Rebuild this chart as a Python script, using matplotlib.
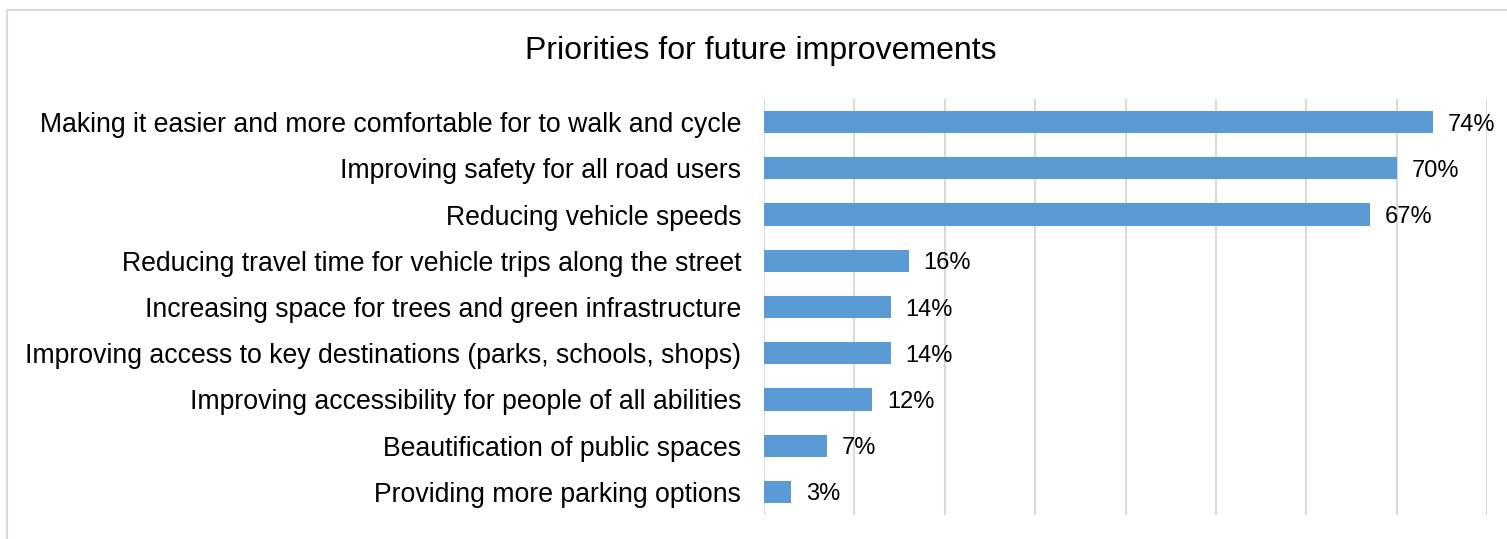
import matplotlib.pyplot as plt
from matplotlib.lines import Line2D

categories = [
    "Making it easier and more comfortable for to walk and cycle",
    "Improving safety for all road users",
    "Reducing vehicle speeds",
    "Reducing travel time for vehicle trips along the street",
    "Increasing space for trees and green infrastructure",
    "Improving access to key destinations (parks, schools, shops)",
    "Improving accessibility for people of all abilities",
    "Beautification of public spaces",
    "Providing more parking options",
]
values = [74, 70, 67, 16, 14, 14, 12, 7, 3]
xticks = [0, 10, 20, 30, 40, 50, 60, 70, 80]

plt.rcParams['font.family'] = ['Liberation Sans', 'DejaVu Sans']

fig = plt.figure(figsize=(15.07, 5.39), dpi=100)
ax = fig.add_axes([764 / 1507, 1 - 515 / 539, (1487 - 764) / 1507, (515 - 99) / 539])

y = list(range(len(categories)))
ax.barh(y, values, height=0.48, color='#5B9BD5', zorder=3)
for yi, v in zip(y, values):
    ax.text(v + 1.65, yi, f"{v}%", va='center_baseline', ha='left', fontsize=17, color='black')

ax.set_xlim(0, 80)
ax.set_ylim(len(categories) - 0.5, -0.5)
ax.set_xticks(xticks)
ax.set_xticklabels([])
ax.set_yticks(y)
ax.set_yticklabels(categories, fontsize=19.2, va='center_baseline')
ax.tick_params(axis='both', length=0, pad=16.5)
ax.grid(axis='x', color='#D9D9D9', linewidth=1.5, zorder=0)
for s in ax.spines.values():
    s.set_visible(False)

fig.text(761 / 1507, 1 - 48 / 539, "Priorities for future improvements",
         ha='center', va='center_baseline', fontsize=23)

# light grey chart border (top and left edges visible)
x0, y0 = 6.5 / 1507, 1 - 9.5 / 539
fig.add_artist(Line2D([x0, 1.01], [y0, y0], color='#D9D9D9', lw=1.5, transform=fig.transFigure))
fig.add_artist(Line2D([x0, x0], [y0, -0.01], color='#D9D9D9', lw=1.5, transform=fig.transFigure))

fig.savefig('out.png', dpi=100)
